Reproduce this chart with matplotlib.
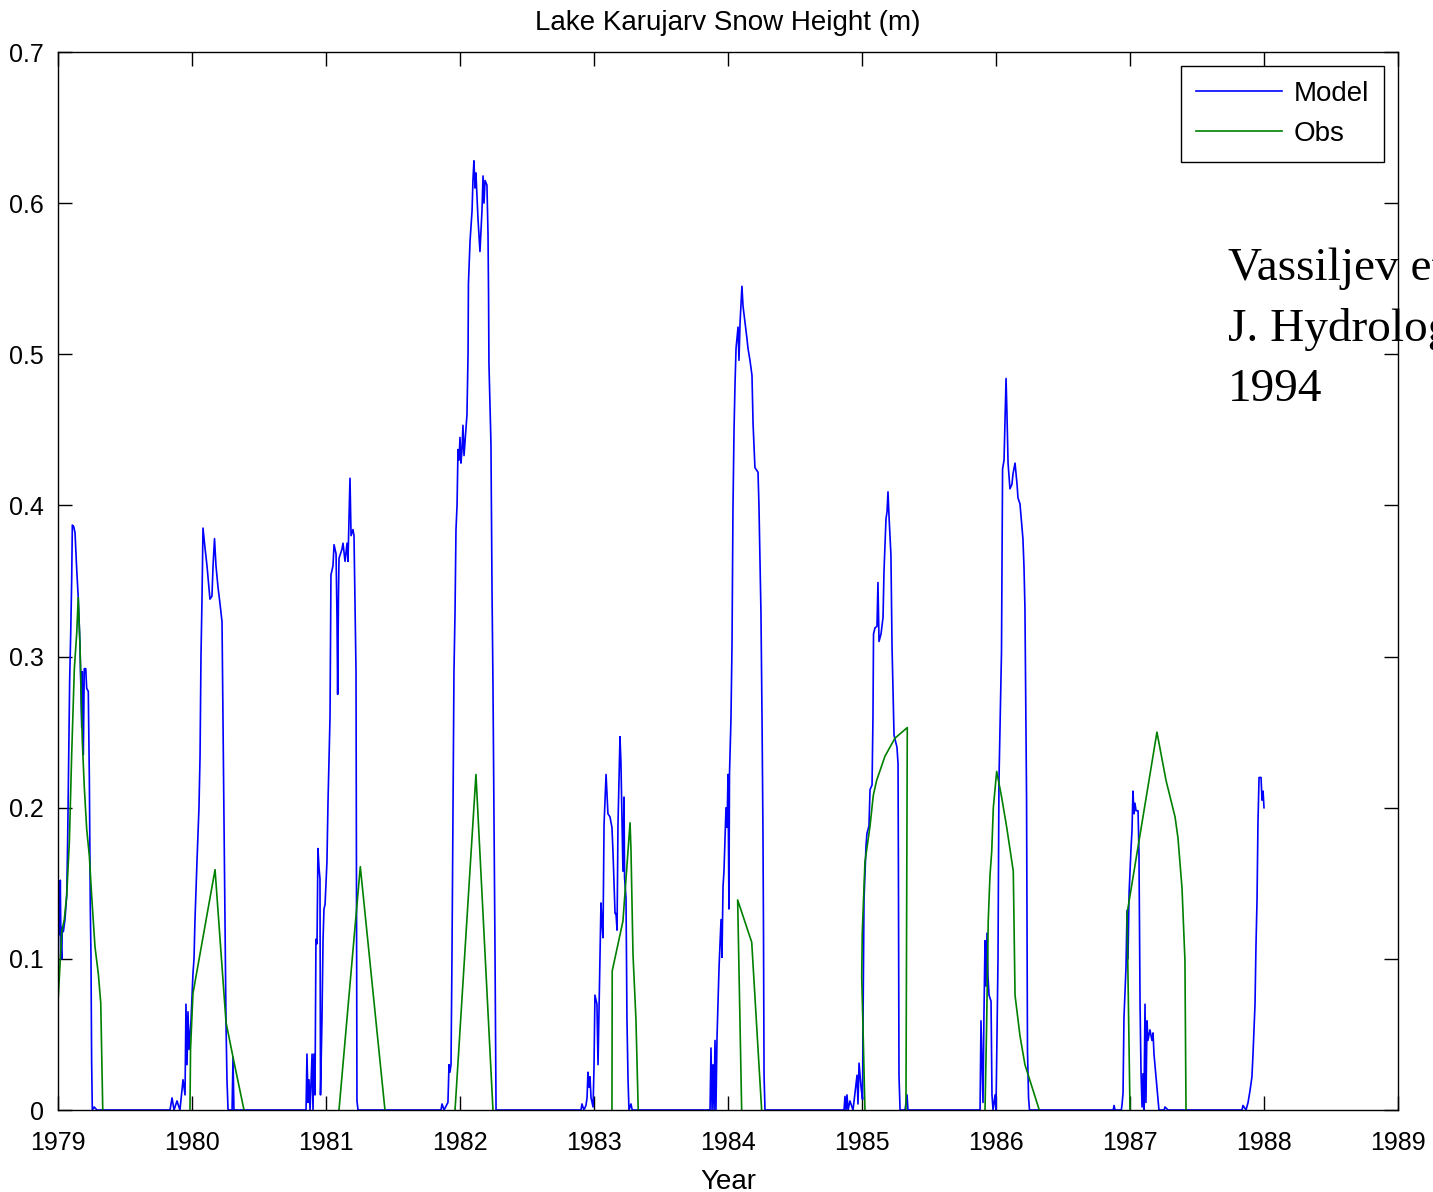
import numpy as np
import matplotlib
matplotlib.use("Agg")
import matplotlib.pyplot as plt
from matplotlib.ticker import FixedLocator, FixedFormatter

# ---------------- data (decimal year, snow height in m) ----------------
# Model, season by season
m79_t = [1979.000, 1979.007, 1979.013, 1979.017, 1979.022, 1979.028, 1979.032, 1979.040, 1979.052,
         1979.065, 1979.072, 1979.080, 1979.087, 1979.095, 1979.102, 1979.107, 1979.117, 1979.127,
         1979.140, 1979.151, 1979.164, 1979.172, 1979.177, 1979.181, 1979.189, 1979.196, 1979.207,
         1979.214, 1979.226, 1979.234, 1979.241, 1979.246, 1979.251, 1979.256, 1979.270, 1979.290]
m79_v = [0.071, 0.144, 0.116, 0.152, 0.110, 0.100, 0.121, 0.118, 0.126,
         0.142, 0.178, 0.235, 0.284, 0.316, 0.350, 0.387, 0.386, 0.382,
         0.357, 0.339, 0.308, 0.274, 0.253, 0.290, 0.235, 0.292, 0.292,
         0.279, 0.277, 0.219, 0.134, 0.103, 0.032, 0.0, 0.002, 0.0]

m80_t = [1979.836, 1979.851, 1979.866, 1979.888, 1979.910, 1979.933, 1979.948, 1979.955, 1979.963,
         1979.970, 1979.978, 1979.993, 1980.007, 1980.015, 1980.022, 1980.037, 1980.052, 1980.060,
         1980.067, 1980.075, 1980.082, 1980.097, 1980.112, 1980.134, 1980.149, 1980.157, 1980.168,
         1980.179, 1980.194, 1980.209, 1980.224, 1980.231, 1980.243, 1980.254, 1980.261, 1980.269,
         1980.299, 1980.306, 1980.313]
m80_v = [0.0, 0.008, 0.0, 0.006, 0.0, 0.020, 0.010, 0.070, 0.030,
         0.065, 0.040, 0.060, 0.090, 0.100, 0.125, 0.164, 0.200, 0.234,
         0.300, 0.340, 0.385, 0.372, 0.360, 0.338, 0.340, 0.360, 0.378,
         0.360, 0.346, 0.335, 0.323, 0.260, 0.150, 0.056, 0.020, 0.0,
         0.0, 0.035, 0.0]

m81_t = [1980.851, 1980.858, 1980.866, 1980.873, 1980.881, 1980.896, 1980.903, 1980.910, 1980.918,
         1980.925, 1980.933, 1980.940, 1980.948, 1980.955, 1980.959, 1980.970, 1980.978, 1980.985,
         1980.993, 1981.007, 1981.015, 1981.030, 1981.037, 1981.052, 1981.060, 1981.075, 1981.082,
         1981.087, 1981.093, 1981.097, 1981.119, 1981.127, 1981.142, 1981.157, 1981.164, 1981.179,
         1981.187, 1981.201, 1981.209, 1981.224, 1981.231, 1981.239]
m81_v = [0.0, 0.037, 0.005, 0.020, 0.0, 0.037, 0.0, 0.037, 0.010,
         0.113, 0.110, 0.173, 0.160, 0.153, 0.010, 0.060, 0.113, 0.133,
         0.136, 0.164, 0.204, 0.260, 0.354, 0.360, 0.374, 0.368, 0.326,
         0.275, 0.340, 0.365, 0.371, 0.375, 0.363, 0.375, 0.363, 0.418,
         0.380, 0.384, 0.380, 0.290, 0.006, 0.0]

m82_t = [1981.858, 1981.866, 1981.881, 1981.910, 1981.918, 1981.925, 1981.933, 1981.940, 1981.948,
         1981.955, 1981.963, 1981.970, 1981.978, 1981.985, 1981.993, 1982.000, 1982.007, 1982.015,
         1982.022, 1982.030, 1982.052, 1982.060, 1982.063, 1982.075, 1982.090, 1982.097, 1982.104,
         1982.112, 1982.119, 1982.134, 1982.149, 1982.164, 1982.172, 1982.179, 1982.187, 1982.201,
         1982.209, 1982.213, 1982.216, 1982.231, 1982.239, 1982.246, 1982.254, 1982.261, 1982.269]
m82_v = [0.0, 0.004, 0.0, 0.005, 0.030, 0.025, 0.030, 0.100, 0.197,
         0.290, 0.330, 0.384, 0.400, 0.437, 0.430, 0.445, 0.428, 0.437,
         0.453, 0.433, 0.460, 0.500, 0.547, 0.575, 0.595, 0.616, 0.628,
         0.610, 0.620, 0.590, 0.568, 0.595, 0.618, 0.600, 0.615, 0.612,
         0.580, 0.540, 0.494, 0.441, 0.343, 0.282, 0.190, 0.108, 0.0]

m83_t = [1982.903, 1982.910, 1982.925, 1982.940, 1982.948, 1982.955, 1982.963, 1982.970, 1982.978,
         1982.993, 1983.000, 1983.007, 1983.022, 1983.030, 1983.037, 1983.052, 1983.060, 1983.067,
         1983.075, 1983.090, 1983.097, 1983.104, 1983.119, 1983.134, 1983.142, 1983.157, 1983.164,
         1983.172, 1983.179, 1983.187, 1983.194, 1983.201, 1983.209, 1983.216, 1983.224, 1983.228,
         1983.239, 1983.246, 1983.254, 1983.261, 1983.276, 1983.285]
m83_v = [0.0, 0.004, 0.0, 0.003, 0.008, 0.025, 0.015, 0.022, 0.008,
         0.002, 0.028, 0.076, 0.070, 0.030, 0.064, 0.137, 0.123, 0.114,
         0.189, 0.222, 0.209, 0.196, 0.194, 0.187, 0.170, 0.130, 0.130,
         0.119, 0.189, 0.220, 0.247, 0.230, 0.190, 0.158, 0.207, 0.154,
         0.140, 0.060, 0.020, 0.0, 0.004, 0.0]

m84_t = [1983.866, 1983.873, 1983.881, 1983.888, 1983.896, 1983.903, 1983.910, 1983.918, 1983.933,
         1983.948, 1983.955, 1983.963, 1983.970, 1983.985, 1983.993, 1984.000, 1984.007, 1984.011,
         1984.022, 1984.030, 1984.037, 1984.045, 1984.052, 1984.060, 1984.075, 1984.082, 1984.090,
         1984.104, 1984.112, 1984.127, 1984.142, 1984.149, 1984.164, 1984.179, 1984.187, 1984.201,
         1984.216, 1984.224, 1984.231, 1984.246, 1984.254, 1984.261, 1984.265, 1984.269, 1984.276]
m84_v = [0.0, 0.041, 0.0, 0.030, 0.0, 0.046, 0.0, 0.048, 0.094,
         0.126, 0.101, 0.148, 0.158, 0.200, 0.187, 0.222, 0.133, 0.222,
         0.258, 0.308, 0.397, 0.450, 0.479, 0.504, 0.518, 0.496, 0.521,
         0.545, 0.532, 0.521, 0.510, 0.504, 0.496, 0.486, 0.454, 0.425,
         0.423, 0.422, 0.400, 0.329, 0.258, 0.183, 0.116, 0.023, 0.0]

m85_t = [1984.866, 1984.873, 1984.881, 1984.888, 1984.896, 1984.910, 1984.933, 1984.963, 1984.970,
         1984.978, 1984.993, 1985.004, 1985.007, 1985.015, 1985.030, 1985.037, 1985.052, 1985.060,
         1985.075, 1985.082, 1985.086, 1985.097, 1985.112, 1985.119, 1985.127, 1985.142, 1985.149,
         1985.157, 1985.164, 1985.179, 1985.187, 1985.194, 1985.201, 1985.216, 1985.224, 1985.231,
         1985.239, 1985.261, 1985.269, 1985.272, 1985.276, 1985.284, 1985.321, 1985.336, 1985.343]
m85_v = [0.0, 0.009, 0.0, 0.010, 0.0, 0.006, 0.0, 0.023, 0.004,
         0.031, 0.015, 0.007, 0.050, 0.139, 0.175, 0.183, 0.188, 0.212,
         0.215, 0.261, 0.315, 0.319, 0.320, 0.349, 0.310, 0.315, 0.320,
         0.326, 0.356, 0.391, 0.396, 0.409, 0.394, 0.367, 0.307, 0.280,
         0.248, 0.240, 0.229, 0.153, 0.023, 0.0, 0.0, 0.010, 0.0]

m86_t = [1985.881, 1985.888, 1985.896, 1985.903, 1985.910, 1985.918, 1985.925, 1985.933, 1985.940,
         1985.948, 1985.963, 1985.970, 1985.978, 1985.993, 1986.000, 1986.015, 1986.022, 1986.030,
         1986.041, 1986.049, 1986.060, 1986.075, 1986.082, 1986.090, 1986.104, 1986.119, 1986.127,
         1986.142, 1986.157, 1986.164, 1986.179, 1986.194, 1986.201, 1986.209, 1986.216, 1986.228,
         1986.235, 1986.243, 1986.250]
m86_v = [0.0, 0.059, 0.030, 0.005, 0.062, 0.112, 0.082, 0.117, 0.089,
         0.076, 0.072, 0.010, 0.0, 0.010, 0.0, 0.100, 0.217, 0.253,
         0.303, 0.424, 0.430, 0.484, 0.460, 0.428, 0.411, 0.414, 0.421,
         0.428, 0.414, 0.405, 0.401, 0.385, 0.378, 0.359, 0.332, 0.207,
         0.039, 0.008, 0.0]

m87_t = [1986.875, 1986.881, 1986.888, 1986.935, 1986.940, 1986.948, 1986.955, 1986.970, 1986.978,
         1986.985, 1986.993, 1987.000, 1987.007, 1987.015, 1987.022, 1987.030, 1987.037, 1987.045,
         1987.060, 1987.067, 1987.075, 1987.082, 1987.090, 1987.097, 1987.104, 1987.112, 1987.119,
         1987.127, 1987.134, 1987.149, 1987.164, 1987.172, 1987.179, 1987.201, 1987.216, 1987.255,
         1987.261, 1987.284]
m87_v = [0.0, 0.003, 0.0, 0.0, 0.003, 0.011, 0.061, 0.094, 0.132,
         0.100, 0.143, 0.158, 0.172, 0.185, 0.211, 0.196, 0.203, 0.198,
         0.198, 0.170, 0.070, 0.026, 0.002, 0.024, 0.0, 0.070, 0.005,
         0.059, 0.046, 0.053, 0.046, 0.051, 0.037, 0.015, 0.0, 0.0,
         0.002, 0.0]

m88_t = [1987.836, 1987.843, 1987.866, 1987.881, 1987.896, 1987.910, 1987.918, 1987.933, 1987.940,
         1987.948, 1987.955, 1987.963, 1987.978, 1987.985, 1987.993, 1988.000]
m88_v = [0.0, 0.003, 0.0, 0.005, 0.013, 0.022, 0.037, 0.070, 0.108,
         0.139, 0.190, 0.220, 0.220, 0.205, 0.211, 0.200]

# Observations, season by season
o79_t = [1979.000, 1979.028, 1979.047, 1979.065, 1979.085, 1979.102, 1979.122, 1979.140, 1979.151,
         1979.164, 1979.181, 1979.196, 1979.214, 1979.234, 1979.251, 1979.276, 1979.301, 1979.319, 1979.334]
o79_v = [0.071, 0.118, 0.126, 0.142, 0.178, 0.235, 0.292, 0.316, 0.339,
         0.308, 0.245, 0.214, 0.186, 0.168, 0.142, 0.108, 0.090, 0.071, 0.0]
o80_t = [1979.985, 1979.989, 1980.007, 1980.172, 1980.254, 1980.306, 1980.388]
o80_v = [0.0, 0.040, 0.077, 0.159, 0.058, 0.035, 0.0]
o81_t = [1981.097, 1981.256, 1981.440]
o81_v = [0.0, 0.161, 0.0]
o82_t = [1981.963, 1982.119, 1982.246]
o82_v = [0.0, 0.222, 0.0]
o83_t = [1983.134, 1983.136, 1983.216, 1983.269, 1983.276, 1983.291, 1983.313, 1983.330]
o83_v = [0.0, 0.092, 0.125, 0.190, 0.172, 0.103, 0.060, 0.0]
o84_t = [1984.102, 1984.072, 1984.177, 1984.251]
o84_v = [0.0, 0.139, 0.111, 0.0]
o85_t = [1985.022, 1985.010, 1984.998, 1985.002, 1985.022, 1985.060, 1985.084, 1985.109, 1985.171,
         1985.246, 1985.338, 1985.328]
o85_v = [0.0, 0.045, 0.088, 0.117, 0.164, 0.188, 0.208, 0.218, 0.234,
         0.246, 0.253, 0.0]
o86_t = [1985.918, 1985.930, 1985.942, 1985.955, 1985.968, 1985.980, 1986.005, 1986.042, 1986.080,
         1986.129, 1986.142, 1986.179, 1986.216, 1986.323]
o86_v = [0.0, 0.056, 0.125, 0.155, 0.171, 0.200, 0.224, 0.207, 0.187,
         0.158, 0.076, 0.049, 0.030, 0.0]
o87_t = [1987.000, 1986.978, 1987.201, 1987.269, 1987.336, 1987.358, 1987.388, 1987.410, 1987.418]
o87_v = [0.0, 0.130, 0.250, 0.218, 0.194, 0.180, 0.147, 0.099, 0.0]

x_ticks = [1979, 1980, 1981, 1982, 1983, 1984, 1985, 1986, 1987, 1988, 1989]
y_ticks = [0, 0.1, 0.2, 0.3, 0.4, 0.5, 0.6, 0.7]
y_ticklabels = ["0", "0.1", "0.2", "0.3", "0.4", "0.5", "0.6", "0.7"]

# ---------------- assemble series ----------------
model_t = m79_t + m80_t + m81_t + m82_t + m83_t + m84_t + m85_t + m86_t + m87_t + m88_t
model_v = m79_v + m80_v + m81_v + m82_v + m83_v + m84_v + m85_v + m86_v + m87_v + m88_v

obs_t, obs_v = [], []
for tt, vv in [(o79_t, o79_v), (o80_t, o80_v), (o81_t, o81_v), (o82_t, o82_v), (o83_t, o83_v),
               (o84_t, o84_v), (o85_t, o85_v), (o86_t, o86_v), (o87_t, o87_v)]:
    obs_t += tt + [np.nan]
    obs_v += vv + [np.nan]

# ---------------- plot ----------------
plt.rcParams['font.family'] = ['Liberation Sans', 'DejaVu Sans']

W, H = 1433, 1192
fig = plt.figure(figsize=(W / 100, H / 100), dpi=100)
ax = fig.add_axes([58 / W, 1 - 1110 / H, (1398 - 58) / W, (1110 - 52) / H])

ax.plot(model_t, model_v, color='#0000ff', lw=1.2, label='Model')
ax.plot(obs_t, obs_v, color='#008000', lw=1.2, label='Obs')

ax.set_xlim(1979, 1989)
ax.set_ylim(0, 0.7)
ax.xaxis.set_major_locator(FixedLocator(x_ticks))
ax.set_xticklabels([str(v) for v in x_ticks])
ax.yaxis.set_major_locator(FixedLocator(y_ticks))
ax.yaxis.set_major_formatter(FixedFormatter(y_ticklabels))

ax.tick_params(axis='both', direction='in', length=10, width=1, colors='black',
               top=True, right=True, labelsize=18)
ax.tick_params(axis='x', pad=15)
ax.tick_params(axis='y', pad=10)
for s in ax.spines.values():
    s.set_linewidth(1.0)
    s.set_color('black')

ax.set_title('Lake Karujarv Snow Height (m)', fontsize=20, pad=16)
ax.set_xlabel('Year', fontsize=20, labelpad=10)

leg = ax.legend(loc='upper right', fontsize=20, frameon=True, fancybox=False,
                edgecolor='black', framealpha=1, handlelength=3.1, handletextpad=0.4,
                borderaxespad=0.5, borderpad=0.55, labelspacing=0.5)
leg.get_frame().set_linewidth(1.0)

fig.text(1228 / W, 1 - 247 / H, "Vassiljev et al.\nJ. Hydrology\n1994",
         fontsize=34, family='Liberation Serif', ha='left', va='top',
         linespacing=1.55, color='black')

fig.savefig('out.png', dpi=100)
